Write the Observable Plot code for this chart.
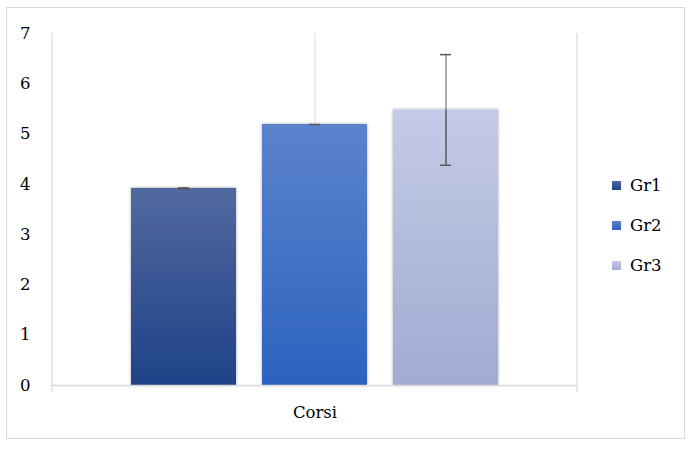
<!DOCTYPE html>
<html>
<head>
<meta charset="utf-8">
<script src="https://cdn.jsdelivr.net/npm/d3@7"></script>
<script src="https://cdn.jsdelivr.net/npm/@observablehq/plot@0.6"></script>
<style>
  body { margin: 0; background: #fff; }
  #wrap { position: relative; width: 692px; height: 449px; }
  #frame { position: absolute; left: 6px; top: 7px; width: 679px; height: 432px; border: 1px solid #d9d9d9; box-sizing: border-box; pointer-events: none; }
  #legend { position: absolute; left: 612px; top: 165px; font-family: "DejaVu Serif", "Liberation Serif", serif; font-size: 16.5px; color: #000; }
  .li { display: flex; align-items: center; height: 40px; }
  .sw { width: 9px; height: 9px; margin-right: 9px; }
</style>
</head>
<body>
<div id="wrap"><div id="frame"></div><div id="legend"></div></div>
<script>
const category = "Corsi";
const groups = ["Gr1", "Gr2", "Gr3"];
const means = [3.92, 5.19, 5.48];
const errLow = [3.91, 5.19, 4.38];
const errHigh = [3.93, 7.6, 6.58];
const errStroke = ["#595959", "#d9d9d9", "#595959"];
const yTicks = [0, 1, 2, 3, 4, 5, 6, 7];
const gradTop = ["#51699f", "#5b83cc", "#c3cbe6"];
const gradBottom = ["#1f4288", "#2c63bf", "#a2abd2"];

const data = groups.map((g, i) => ({
  cat: category, group: g, value: means[i], lo: errLow[i], hi: errHigh[i], es: errStroke[i]
}));

const font = '"DejaVu Serif", "Liberation Serif", serif';

const chart = Plot.plot({
  width: 692,
  height: 449,
  marginLeft: 52,
  marginRight: 115,
  marginTop: 33,
  marginBottom: 64,
  style: { fontFamily: font, fontSize: "16.5px", color: "#000", background: "transparent", overflow: "visible" },
  fx: { domain: [category], padding: 0, axis: "bottom", label: null, tickSize: 0, tickPadding: 21 },
  x: { domain: groups, paddingInner: 0.2, paddingOuter: 0.6, axis: null },
  y: { domain: [0, 7], ticks: yTicks, label: null, tickSize: 0, tickPadding: 22, tickFormat: d => String(d) },
  color: { domain: groups, range: groups.map((g, i) => `url(#grad${i})`) },
  marks: [
    Plot.barY(data, { fx: "cat", x: "group", y: "value", fill: "group" }),
    Plot.ruleY([0], { stroke: "#d9d9d9", strokeWidth: 1.5 }),
    Plot.ruleX(data, { fx: "cat", x: "group", y1: "value", y2: "hi", stroke: "es", strokeWidth: 1, clip: true }),
    Plot.ruleX(data, { fx: "cat", x: "group", y1: "lo", y2: "value", stroke: "#595959", strokeWidth: 1.5 }),
    Plot.tickY(data.filter(d => d.hi <= 7), { fx: "cat", x: "group", y: "hi", stroke: "#595959", strokeWidth: 1.5, insetLeft: 47, insetRight: 47 }),
    Plot.tickY(data, { fx: "cat", x: "group", y: "lo", stroke: "#595959", strokeWidth: 1.5, insetLeft: 47, insetRight: 47 })
  ]
});

const svg = d3.select(chart.tagName === "svg" ? chart : chart.querySelector("svg"));
const defs = svg.insert("defs", ":first-child");
groups.forEach((g, i) => {
  const lg = defs.append("linearGradient").attr("id", `grad${i}`).attr("x1", 0).attr("y1", 0).attr("x2", 0).attr("y2", 1);
  lg.append("stop").attr("offset", "0%").attr("stop-color", gradTop[i]);
  lg.append("stop").attr("offset", "100%").attr("stop-color", gradBottom[i]);
});
const f = defs.append("filter").attr("id", "shadow").attr("x", "-20%").attr("y", "-20%").attr("width", "140%").attr("height", "140%");
f.append("feDropShadow").attr("dx", 0).attr("dy", 0).attr("stdDeviation", 1.8).attr("flood-color", "#000").attr("flood-opacity", 0.35);
svg.selectAll('g[aria-label="bar"] rect').attr("filter", "url(#shadow)");
// left and right plot-area lines with short ticks below
const y0 = 449 - 64, yTop = 33;
const gLines = svg.insert("g", 'g[aria-label="bar"]');
[52, 577].forEach(xx => {
  gLines.append("line").attr("x1", xx).attr("x2", xx).attr("y1", yTop).attr("y2", y0 + 7).attr("stroke", "#d9d9d9").attr("stroke-width", 1.2);
});

document.getElementById("wrap").appendChild(chart);

const legend = document.getElementById("legend");
groups.forEach((g, i) => {
  const row = document.createElement("div");
  row.className = "li";
  row.innerHTML = `<span class="sw" style="background: linear-gradient(${gradTop[i]}, ${gradBottom[i]})"></span><span>${g}</span>`;
  legend.appendChild(row);
});
</script>
</body>
</html>
